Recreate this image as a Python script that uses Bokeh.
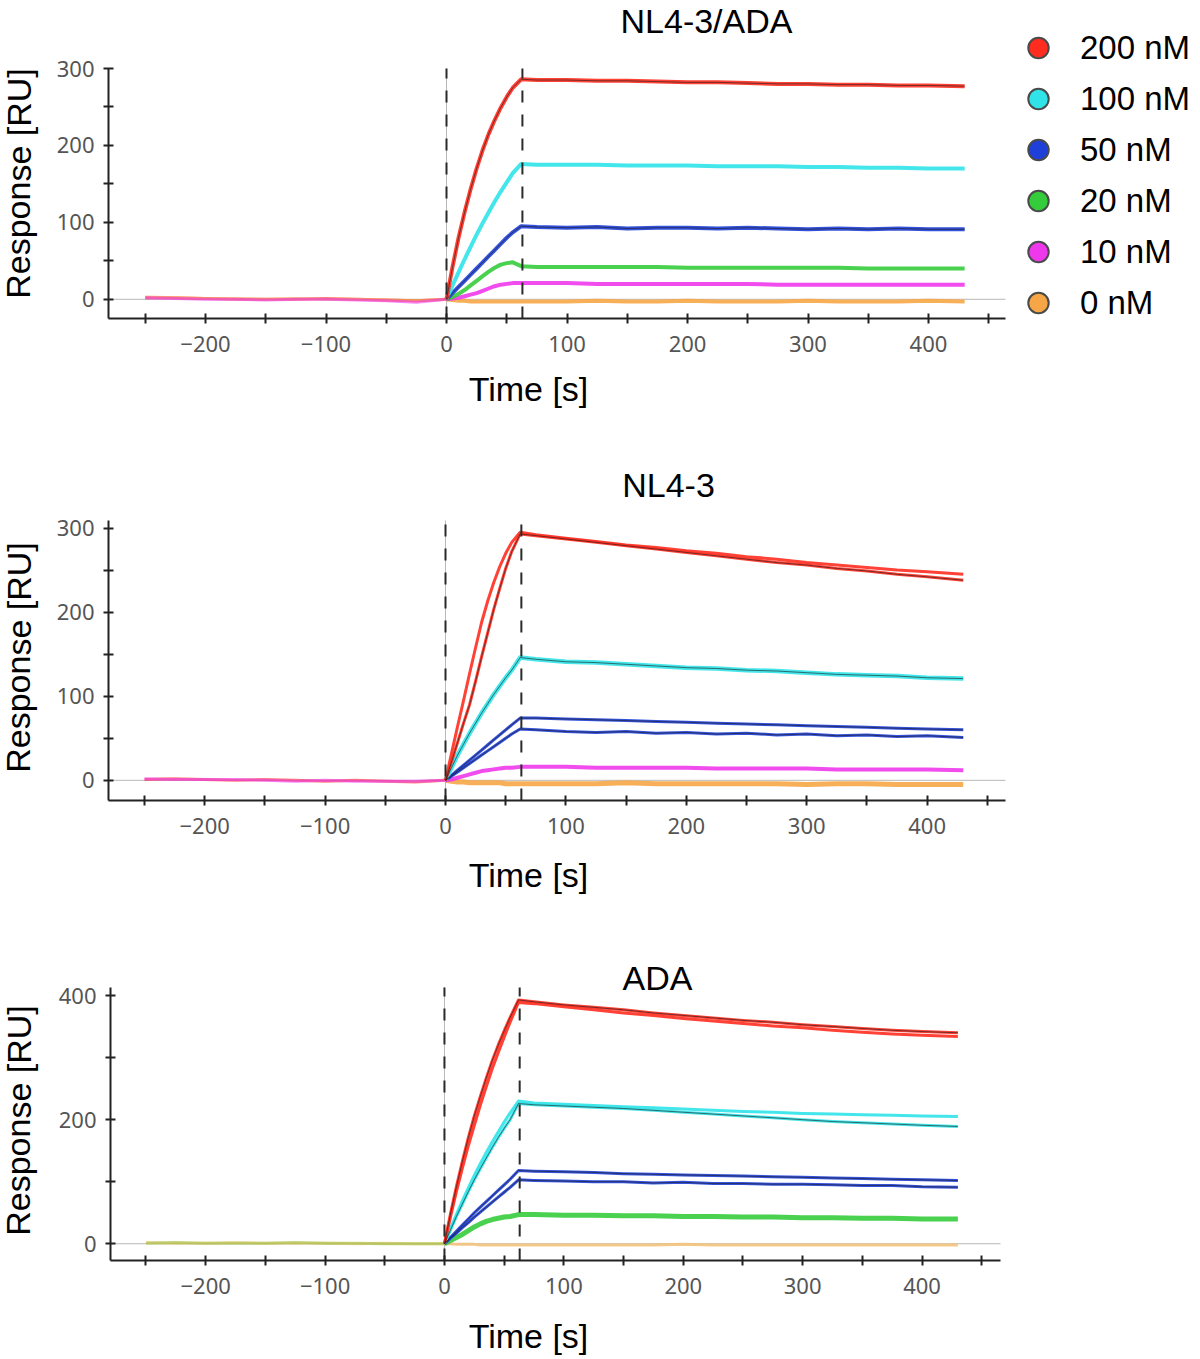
from bokeh.plotting import figure
from bokeh.models import Range1d, FixedTicker, Label, Legend, LegendItem
from bokeh.layouts import column
from bokeh.embed import file_html
from bokeh.resources import INLINE

# ---------------- data ----------------
T_BASE = [-250, -225, -200, -175, -150, -125, -100, -75, -50, -25, 0]
T_CURVE = [0, 5, 10, 15, 20, 25, 30, 35, 40, 45, 50, 55, 62,
           75, 100, 125, 150, 175, 200, 225, 250, 275, 300, 325, 350, 375, 400, 430]
INJECTION_MARKS = [0, 63]

CONC_LABELS = ["200 nM", "100 nM", "50 nM", "20 nM", "10 nM", "0 nM"]

X_MAJOR = [-200, -100, 0, 100, 200, 300, 400]
X_MINOR = [-250, -150, -50, 50, 150, 250, 350, 450]

# Panel 1: NL4-3/ADA
P1_BASE_MAG = [2, 1, 0, 0, -1, 0, 0, -1, -2, -4, 0]
P1_BASE_ORA = [3, 2, 1, 1, 0, 1, 0, 0, -1, -2, 0]
P1_BASE_RED = [2, 2, 1, 0, 0, 0, 1, 0, -1, -2, 0]
P1_RED = [0, 42, 80, 113, 143, 170, 194, 215, 233, 249, 263, 275, 286,
          285, 285, 284, 284, 283, 282, 282, 281, 280, 280, 279, 279, 278, 278, 277]
P1_CYAN = [0, 18, 35, 52, 68, 84, 99, 113, 127, 140, 152, 164, 176,
           175, 175, 175, 174, 174, 174, 173, 173, 173, 172, 172, 171, 171, 170, 170]
P1_BLUE = [0, 8, 16, 24, 32, 40, 48, 56, 64, 72, 80, 87, 95,
           94, 93, 94, 92, 93, 93, 92, 93, 92, 91, 92, 91, 92, 91, 91]
P1_GREEN = [0, 3, 7, 12, 18, 24, 30, 36, 41, 45, 47, 48, 43,
            42, 42, 42, 42, 42, 41, 41, 41, 41, 41, 41, 40, 40, 40, 40]
P1_MAGENTA = [0, 1, 2, 4, 6, 8, 11, 14, 17, 19, 20, 21, 21,
              21, 21, 20, 20, 20, 20, 20, 20, 19, 19, 19, 19, 19, 19, 19]
P1_ORANGE = [0, -1, -2, -2, -3, -3, -3, -3, -3, -3, -3, -3, -3,
             -3, -3, -2, -3, -3, -2, -3, -3, -3, -2, -3, -3, -3, -2, -3]

# Panel 2: NL4-3
P2_BASE_MAG = [2, 1, 1, 1, 0, -1, 0, -1, -1, -1, 0]
P2_BASE_RED = [1, 2, 1, 0, 1, 0, -1, 0, -1, -2, 0]
P2_RED_A = [0, 32, 64, 95, 127, 158, 188, 213, 235, 254, 270, 283, 295,
            292, 288, 284, 280, 277, 273, 270, 266, 263, 259, 256, 253, 250, 248, 245]
P2_RED_B = [0, 22, 45, 68, 90, 118, 147, 175, 203, 228, 252, 272, 293,
            291, 287, 283, 279, 275, 271, 267, 263, 259, 256, 252, 249, 245, 242, 238]
P2_CYAN = [0, 15, 30, 43, 56, 68, 80, 91, 102, 112, 122, 131, 146,
           144, 141, 140, 138, 136, 134, 133, 131, 130, 128, 126, 125, 124, 122, 121]
P2_BLUE_A = [0, 6, 12, 18, 24, 30, 36, 42, 48, 54, 60, 66, 74,
             74, 73, 72, 71, 70, 69, 68, 67, 66, 65, 64, 63, 62, 61, 60]
P2_BLUE_B = [0, 5, 10, 15, 20, 25, 30, 35, 40, 45, 50, 55, 61,
             60, 58, 57, 58, 56, 57, 55, 56, 54, 55, 53, 54, 52, 53, 51]
P2_MAGENTA = [0, 1, 3, 5, 7, 9, 11, 12, 13, 14, 15, 15, 16,
              16, 16, 15, 15, 15, 15, 14, 14, 14, 14, 13, 13, 13, 13, 12]
P2_ORANGE = [0, -1, -2, -2, -3, -3, -3, -3, -3, -3, -4, -4, -4,
             -4, -4, -4, -3, -4, -4, -4, -4, -4, -5, -4, -4, -5, -5, -5]

# Panel 3: ADA
P3_BASE_GREEN = [1, 2, 1, 1, 1, 2, 1, 1, 0, 0, 0]
P3_BASE_YEL = [2, 1, 1, 2, 1, 1, 1, 0, 1, 0, 0]
P3_RED_A = [0, 48, 92, 133, 171, 206, 237, 267, 295, 320, 343, 365, 393,
            390, 385, 381, 377, 372, 368, 364, 360, 357, 353, 350, 347, 344, 342, 340]
P3_RED_B = [0, 43, 84, 122, 158, 191, 223, 253, 282, 308, 333, 357, 389,
            387, 382, 377, 372, 368, 363, 359, 355, 351, 348, 344, 341, 338, 336, 334]
P3_CYAN_A = [0, 24, 47, 69, 90, 110, 129, 147, 164, 180, 196, 211, 230,
             227, 225, 223, 221, 219, 217, 215, 213, 212, 210, 209, 208, 207, 206, 205]
P3_CYAN_B = [0, 22, 44, 64, 84, 103, 121, 138, 155, 171, 186, 200, 226,
             224, 222, 220, 218, 215, 212, 209, 206, 203, 200, 197, 195, 193, 191, 189]
P3_BLUE_A = [0, 10, 20, 30, 40, 50, 59, 68, 77, 86, 95, 104, 118,
             117, 116, 115, 113, 112, 111, 110, 109, 108, 107, 106, 105, 104, 103, 102]
P3_BLUE_B = [0, 9, 17, 26, 34, 43, 51, 59, 67, 75, 83, 91, 103,
             102, 101, 100, 100, 98, 99, 97, 97, 96, 96, 95, 94, 94, 92, 91]
P3_GREEN = [0, 5, 10, 15, 21, 27, 32, 36, 39, 41, 43, 44, 47,
            47, 46, 46, 45, 45, 44, 44, 43, 43, 42, 42, 41, 41, 40, 40]
P3_ORANGE = [0, 0, -1, -1, -1, -1, -2, -2, -2, -2, -2, -2, -2,
             -2, -2, -2, -2, -2, -1, -2, -2, -2, -2, -2, -2, -2, -2, -2]

# axis extents (data units) of each panel
P1_X_BOUNDS = (-280.5, 463.9)
P1_Y_BOUNDS = (-25, 300)
P2_X_BOUNDS = (-279.9, 465.1)
P2_Y_BOUNDS = (-24, 309)
P3_X_BOUNDS = (-279.7, 465.7)
P3_Y_BOUNDS = (-27, 413)

# ---------------- styles ----------------
RED = "#ff2d1f"
CYAN = "#2fe3e8"
BLUE = "#1e3fd8"
GREEN = "#35cc3c"
MAGENTA = "#ee38ec"
ORANGE = "#f6a646"
PALE_ORANGE = "#f3c27c"
OLIVE = "#9fc23a"
FIT = "#1a1a1a"
LEGEND_COLORS = [RED, CYAN, BLUE, GREEN, MAGENTA, ORANGE]

BIG_FONT = "Liberation Sans"
TICK_FONT = "Noto Sans"
FIG_W = 1200
NAN = float("nan")


def make_panel(height, box, xb, yb, y_major, y_minor, baselines, curves, fits,
               title, title_xy, time_xy, resp_xy):
    # box = (left, right, top, bottom) pixel position of the axes box inside the figure
    left, right, top, bottom = box
    sx = (right - left) / (xb[1] - xb[0])
    sy = (bottom - top) / (yb[1] - yb[0])
    x_range = Range1d(xb[0] - left / sx, xb[0] + (FIG_W - left) / sx)
    y_range = Range1d(yb[0] - (height - bottom) / sy, yb[1] + top / sy)

    p = figure(width=FIG_W, height=height, output_backend="svg", toolbar_location=None,
               x_range=x_range, y_range=y_range,
               min_border=0, min_border_top=0, min_border_bottom=0,
               min_border_left=0, min_border_right=0)
    p.outline_line_color = None
    p.xgrid.visible = False
    p.ygrid.visible = False
    p.background_fill_color = "white"
    p.border_fill_color = "white"

    for ax in (p.xaxis[0], p.yaxis[0]):
        ax.axis_line_width = 2
        ax.axis_line_color = "#222222"
        ax.major_tick_line_width = 2
        ax.minor_tick_line_width = 2
        ax.major_tick_line_color = "#222222"
        ax.minor_tick_line_color = "#222222"
        ax.major_tick_in = 5
        ax.major_tick_out = 5
        ax.minor_tick_in = 5
        ax.minor_tick_out = 5
        ax.major_label_text_font = TICK_FONT
        ax.major_label_text_font_size = "22px"
        ax.major_label_text_color = "#555555"
    p.xaxis.ticker = FixedTicker(ticks=X_MAJOR, minor_ticks=X_MINOR)
    p.yaxis.ticker = FixedTicker(ticks=y_major, minor_ticks=y_minor)
    p.xaxis.major_label_standoff = 12
    p.yaxis.major_label_standoff = 9
    p.xaxis.fixed_location = yb[0]
    p.yaxis.fixed_location = xb[0]
    p.xaxis.bounds = xb
    p.yaxis.bounds = yb

    # zero line and injection start (thin grey), injection marks (dashed)
    p.segment(x0=[xb[0]], y0=[0], x1=[xb[1]], y1=[0], line_color="#b8b8b8", line_width=1)
    p.segment(x0=[INJECTION_MARKS[0]], y0=[yb[0]], x1=[INJECTION_MARKS[0]], y1=[yb[1]],
              line_color="#b8b8b8", line_width=1)

    for vals, col in baselines:
        p.line(T_BASE, vals, line_color=col, line_width=3, line_alpha=0.6)
    for vals, col, w in curves:
        p.line(T_CURVE, vals, line_color=col, line_width=w, line_alpha=0.9, line_join="round")
    for vals in fits:
        p.line(T_CURVE, vals, line_color=FIT, line_width=1, line_alpha=0.6, line_join="round")

    p.segment(x0=INJECTION_MARKS, y0=[yb[0]] * 2, x1=INJECTION_MARKS, y1=[yb[1]] * 2,
              line_color="#2a2a2a", line_width=2, line_dash="12 12")

    p.add_layout(Label(x=title_xy[0], y=title_xy[1], x_units="screen", y_units="screen",
                       text=title, text_font=BIG_FONT, text_font_size="34px",
                       text_align="center", text_baseline="alphabetic", text_color="black"))
    p.add_layout(Label(x=time_xy[0], y=time_xy[1], x_units="screen", y_units="screen",
                       text="Time [s]", text_font=BIG_FONT, text_font_size="34px",
                       text_align="center", text_baseline="alphabetic", text_color="black"))
    p.add_layout(Label(x=resp_xy[0], y=resp_xy[1], x_units="screen", y_units="screen",
                       text="Response [RU]", text_font=BIG_FONT, text_font_size="34px",
                       angle=1.5707963, text_align="center", text_baseline="alphabetic",
                       text_color="black"))
    return p


p1 = make_panel(440, (108, 1005, 68, 318), P1_X_BOUNDS, P1_Y_BOUNDS,
                [0, 100, 200, 300], [50, 150, 250],
                [(P1_BASE_RED, RED), (P1_BASE_ORA, ORANGE), (P1_BASE_MAG, MAGENTA)],
                [(P1_ORANGE, ORANGE, 4), (P1_MAGENTA, MAGENTA, 4), (P1_GREEN, GREEN, 4),
                 (P1_BLUE, BLUE, 4), (P1_CYAN, CYAN, 4), (P1_RED, RED, 4)],
                [P1_BLUE, P1_RED],
                "NL4-3/ADA", (706, 420), (528, 52), (18, 257))

p2 = make_panel(480, (108, 1005, 80, 360), P2_X_BOUNDS, P2_Y_BOUNDS,
                [0, 100, 200, 300], [50, 150, 250],
                [(P2_BASE_RED, RED), (P2_BASE_MAG, MAGENTA)],
                [(P2_ORANGE, ORANGE, 5), (P2_MAGENTA, MAGENTA, 4), (P2_BLUE_B, BLUE, 3),
                 (P2_BLUE_A, BLUE, 3), (P2_CYAN, CYAN, 4.5), (P2_RED_B, RED, 3), (P2_RED_A, RED, 3)],
                [P2_BLUE_B, P2_BLUE_A, P2_CYAN, P2_RED_B],
                "NL4-3", (668, 436), (528, 46), (18, 263))

p3 = make_panel(439, (110, 1000, 67, 340), P3_X_BOUNDS, P3_Y_BOUNDS,
                [0, 200, 400], [100, 300],
                [(P3_BASE_YEL, PALE_ORANGE), (P3_BASE_GREEN, OLIVE)],
                [(P3_ORANGE, PALE_ORANGE, 3), (P3_GREEN, GREEN, 5), (P3_BLUE_B, BLUE, 3),
                 (P3_BLUE_A, BLUE, 3), (P3_CYAN_B, CYAN, 3), (P3_CYAN_A, CYAN, 3),
                 (P3_RED_B, RED, 3), (P3_RED_A, RED, 3)],
                [P3_BLUE_B, P3_BLUE_A, P3_CYAN_B, P3_RED_A],
                "ADA", (657, 382), (528, 24), (18, 239))

# legend (panel 1)
items = []
for lab, col in zip(CONC_LABELS, LEGEND_COLORS):
    r = p1.scatter(x=[NAN], y=[NAN], marker="circle", size=20, fill_color=col,
                   line_color="#4a4a4a", line_width=2)
    items.append(LegendItem(label=lab, renderers=[r]))
legend = Legend(items=items, location=(1010, 112), orientation="vertical",
                glyph_width=56, glyph_height=51, label_height=51, spacing=0,
                padding=0, margin=0, label_standoff=14,
                label_text_font=BIG_FONT, label_text_font_size="33px",
                label_text_color="black", background_fill_alpha=0, border_line_alpha=0)
p1.add_layout(legend)

layout = column(p1, p2, p3, spacing=0)
open("out.html", "w").write(file_html(layout, INLINE))
